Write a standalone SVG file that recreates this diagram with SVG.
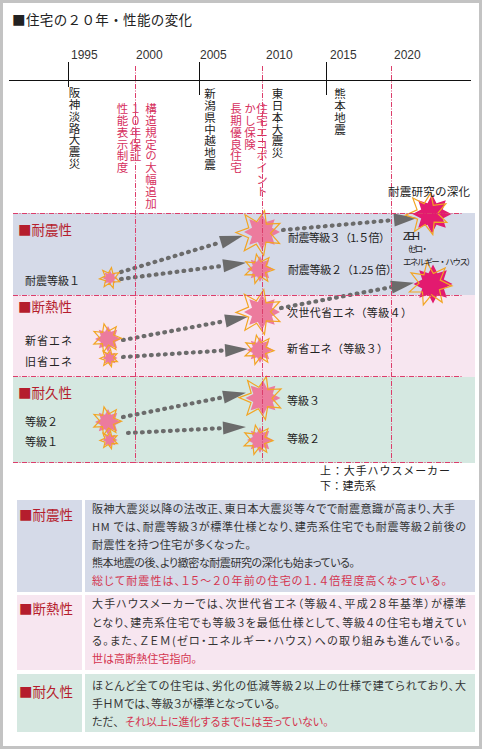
<svg xmlns="http://www.w3.org/2000/svg" width="482" height="749" viewBox="0 0 482 749">
<style>
text { font-family: "Noto Sans CJK JP", "Noto Sans", sans-serif; fill: #222; }
.pa { font-feature-settings: "palt"; }
.yr { font-family: "Liberation Sans", "Noto Sans", sans-serif; font-size: 12px; fill: #333; }
.vt { font-size: 11.5px; writing-mode: vertical-rl; letter-spacing: 0.3px; }
.vr { fill: #d6305e; }
.lab { font-size: 13.5px; fill: #b51d2d; }
.t11 { font-size: 11px; }
.body { font-size: 11px; fill: #333; }
.bred { fill: #d4344f; }
.grid { stroke: #dc3d6b; stroke-width: 1; stroke-dasharray: 5 1.5 1 1.5; fill: none; }
.tick { stroke: #111; stroke-width: 1; fill: none; }
.dots { stroke: #6b6b6b; stroke-width: 4.2; stroke-linecap: round; stroke-dasharray: 0.8 6.2; fill: none; marker-end: url(#ah); }
.pk { fill: #ec7b9d; }
.dp { fill: #e31a6f; }
.og { fill: none; stroke: #f2a524; stroke-width: 1.2; }
.b1 { fill: #d5dae8; }
.b2 { fill: #f7e6f0; }
.b3 { fill: #d5e8e1; }
</style>
<defs>
<path id="p8" d="M0,-10 L2.3,-5.54 L7.07,-7.07 L5.54,-2.3 L10,0 L5.54,2.3 L7.07,7.07 L2.3,5.54 L0,10 L-2.3,5.54 L-7.07,7.07 L-5.54,2.3 L-10,0 L-5.54,-2.3 L-7.07,-7.07 L-2.3,-5.54 Z"/>
<path id="p7" vector-effect="non-scaling-stroke" d="M0,-10 L2.17,-4.5 L7.82,-6.23 L4.87,-1.11 L9.75,2.23 L3.91,3.12 L4.34,9.01 L0,5 L-4.34,9.01 L-3.91,3.12 L-9.75,2.23 L-4.87,-1.11 L-7.82,-6.23 L-2.17,-4.5 Z"/>
<marker id="ah" markerUnits="userSpaceOnUse" markerWidth="24" markerHeight="14" refX="0" refY="6.5" orient="auto" overflow="visible">
<path d="M0,0 L23,6.5 L0,13 Z" fill="#6b6b6b"/>
</marker>
</defs>

<rect x="0" y="0" width="482" height="749" fill="#fff"/>
<rect x="1.5" y="1.5" width="479" height="746" fill="none" stroke="#c3c3c3" stroke-width="3"/>

<text x="12" y="25" style="font-size:13.5px" textLength="180">■住宅の２０年・性能の変化</text>

<!-- bands -->
<g id="bands">
<rect class="b1" x="13" y="213" width="462" height="82"/>
<rect class="b2" x="13" y="295" width="462" height="82"/>
<rect class="b3" x="13" y="377" width="462" height="86"/>
</g>

<!-- timeline -->
<g id="timeline">
<line class="tick" x1="9" y1="80.5" x2="471" y2="80.5"/>
<line class="tick" x1="68.5" y1="62" x2="68.5" y2="87"/>
<line class="tick" x1="199.5" y1="62" x2="199.5" y2="95"/>
<line class="tick" x1="326.5" y1="62" x2="326.5" y2="95"/>
<text class="yr" x="71" y="59">1995</text>
<text class="yr" x="136" y="59">2000</text>
<text class="yr" x="200" y="59">2005</text>
<text class="yr" x="266" y="59">2010</text>
<text class="yr" x="330" y="59">2015</text>
<text class="yr" x="394" y="59">2020</text>
</g>

<g id="events">
<text class="vt" x="74.5" y="87">阪神淡路大震災</text>
<text class="vt vr" x="122.5" y="103">性能表示制度</text>
<text class="vt vr" x="135.5" y="103">１０年保証</text>
<text class="vt vr" x="151" y="103">構造規定の大幅追加</text>
<text class="vt" x="210" y="88">新潟県中越地震</text>
<text class="vt vr" x="236" y="103">長期優良住宅</text>
<text class="vt vr" x="250" y="103">かし保険</text>
<text class="vt vr" x="262" y="103">住宅エコポイント</text>
<text class="vt" x="277.5" y="88">東日本大震災</text>
<text class="vt" x="340" y="88">熊本地震</text>
</g>

<!-- connectors -->
<g id="connectors">
<path class="dots" d="M121,272 L220.9,242.3"/>
<path class="dots" d="M121,279 L223.2,265.8"/>
<path class="dots" d="M283,230 L394.1,220"/>
<path class="dots" d="M123,340 L225.4,321"/>
<path class="dots" d="M123,357 L225.1,350.4"/>
<path class="dots" d="M281,308 L391.4,287.1"/>
<path class="dots" d="M123,417 L223.4,397.2"/>
<path class="dots" d="M128,433 L223,428.1"/>
</g>

<!-- nodes: stars -->
<g id="star-taishin1">
<use href="#p8" class="pk" transform="translate(110,278) scale(0.75)"/>
<use href="#p7" class="og" transform="translate(110,278) rotate(8) scale(1.05)"/>
</g>
<g id="star-taishin3">
<use href="#p8" class="pk" transform="translate(262,232) scale(1.8)"/>
<use href="#p7" class="og" transform="translate(259,233) rotate(14) scale(2.3)"/>
</g>
<g id="star-taishin2">
<use href="#p8" class="pk" transform="translate(260,269) scale(1.3)"/>
<use href="#p7" class="og" transform="translate(259,269) rotate(-10) scale(1.5)"/>
</g>
<g id="star-zeh-top">
<use href="#p8" class="dp" transform="translate(432,214) scale(1.95)"/>
<use href="#p7" class="og" transform="translate(427,214) rotate(10) scale(2.15)"/>
</g>
<g id="star-zeh-bottom">
<use href="#p8" class="dp" transform="translate(433,284) scale(1.95)"/>
<use href="#p7" class="og" transform="translate(430,284) rotate(-8) scale(2.2)"/>
</g>
<g id="star-shinshoene">
<use href="#p8" class="pk" transform="translate(108,339) scale(1.3)"/>
<use href="#p7" class="og" transform="translate(107,338) rotate(-12) scale(1.45)"/>
</g>
<g id="star-kyushoene">
<use href="#p8" class="pk" transform="translate(110,358) scale(0.75)"/>
<use href="#p7" class="og" transform="translate(109,358) rotate(10) scale(0.9)"/>
</g>
<g id="star-jisedai">
<use href="#p8" class="pk" transform="translate(262,312) scale(1.8)"/>
<use href="#p7" class="og" transform="translate(259,312) rotate(12) scale(2.3)"/>
</g>
<g id="star-shinshoene3">
<use href="#p8" class="pk" transform="translate(260,350) scale(1.3)"/>
<use href="#p7" class="og" transform="translate(259,350) rotate(-10) scale(1.5)"/>
</g>
<g id="star-taikyu2">
<use href="#p8" class="pk" transform="translate(108,422) scale(1.3)"/>
<use href="#p7" class="og" transform="translate(107,421) rotate(-12) scale(1.45)"/>
</g>
<g id="star-taikyu1">
<use href="#p8" class="pk" transform="translate(110,440) scale(0.75)"/>
<use href="#p7" class="og" transform="translate(109,440) rotate(10) scale(0.9)"/>
</g>
<g id="star-taikyu3">
<use href="#p8" class="pk" transform="translate(263,398) scale(1.75)"/>
<use href="#p7" class="og" transform="translate(261,398) rotate(14) scale(2.2)"/>
</g>
<g id="star-taikyu2b">
<use href="#p8" class="pk" transform="translate(260,440) scale(1.3)"/>
<use href="#p7" class="og" transform="translate(258,440) rotate(-10) scale(1.5)"/>
</g>

<!-- grid lines -->
<g id="grid">
<line class="grid" x1="13" y1="213.5" x2="463" y2="213.5"/>
<line class="grid" x1="13" y1="295.5" x2="463" y2="295.5"/>
<line class="grid" x1="13" y1="376.5" x2="463" y2="376.5"/>
<line class="grid" x1="13" y1="462.5" x2="463" y2="462.5"/>
<line class="grid" x1="135.5" y1="66" x2="135.5" y2="463"/>
<line class="grid" x1="262.5" y1="66" x2="262.5" y2="463"/>
<line class="grid" x1="391.5" y1="66" x2="391.5" y2="463"/>
</g>

<!-- labels -->
<g id="labels">
<text class="lab" x="18" y="235">■耐震性</text>
<text class="lab" x="18" y="312">■断熱性</text>
<text class="lab" x="18" y="398">■耐久性</text>
<text class="t11" x="25" y="285" textLength="55">耐震等級１</text>
<text class="t11" x="25" y="345" textLength="47">新省エネ</text>
<text class="t11" x="25" y="366" textLength="47">旧省エネ</text>
<text class="t11" x="25" y="426" textLength="33">等級２</text>
<text class="t11" x="25" y="446" textLength="33">等級１</text>
<text class="t11" x="288" y="242" textLength="102">耐震等級３（1.５倍）</text>
<text class="t11" x="288" y="274" textLength="109">耐震等級２（1.25 倍）</text>
<text class="t11" x="287" y="317" textLength="125">次世代省エネ（等級４）</text>
<text class="t11" x="287" y="353" textLength="101">新省エネ（等級３）</text>
<text class="t11" x="287" y="405" textLength="33">等級３</text>
<text class="t11" x="287" y="443" textLength="33">等級２</text>
<text style="font-size:11.5px" x="388" y="196" textLength="82">耐震研究の深化</text>
<text style="font-size:11px;font-family:'Liberation Sans',sans-serif" x="403" y="240" textLength="17">ZEH</text>
<text style="font-size:8.5px" x="403" y="252" textLength="26">（ゼロ・</text>
<text style="font-size:8.5px" x="403" y="265" textLength="72">エネルギー・ハウス）</text>
<text style="font-size:11px" x="320" y="475" textLength="130">上：大手ハウスメーカー</text>
<text style="font-size:11px" x="320" y="490" textLength="56">下：建売系</text>
</g>

<!-- explanation boxes -->
<g id="box-taishin">
<rect class="b1" x="17" y="500" width="65" height="92"/>
<rect class="b1" x="85" y="500" width="390" height="92"/>
<text class="lab" x="19" y="520">■耐震性</text>
<text class="body pa" x="92" y="513" textLength="363">阪神大震災以降の法改正、東日本大震災等々でで耐震意識が高まり、大手</text>
<text class="body pa" x="92" y="531" textLength="374">HM では、耐震等級３が標準仕様となり、建売系住宅でも耐震等級２前後の</text>
<text class="body pa" x="92" y="549" textLength="159">耐震性を持つ住宅が多くなった。</text>
<text class="body pa" x="92" y="567" textLength="263">熊本地震の後、より緻密な耐震研究の深化も始まっている。</text>
<text class="body pa bred" x="92" y="585" textLength="355">総じて耐震性は、１５〜２０年前の住宅の１．４倍程度高くなっている。</text>
</g>
<g id="box-dannetsu">
<rect class="b2" x="17" y="595" width="65" height="75"/>
<rect class="b2" x="85" y="595" width="390" height="75"/>
<text class="lab" x="19" y="614">■断熱性</text>
<text class="body pa" x="92" y="608" textLength="374">大手ハウスメーカーでは、次世代省エネ（等級４、平成２８年基準）が標準</text>
<text class="body pa" x="92" y="627" textLength="374">となり、建売系住宅でも等級３を最低仕様として、等級４の住宅も増えてい</text>
<text class="body pa" x="92" y="645" textLength="369">る。また、ＺＥＭ(ゼロ・エネルギー・ハウス）への取り組みも進んでいる。</text>
<text class="body pa bred" x="92" y="663" textLength="105">世は高断熱住宅指向。</text>
</g>
<g id="box-taikyu">
<rect class="b3" x="17" y="674" width="65" height="58"/>
<rect class="b3" x="85" y="674" width="390" height="58"/>
<text class="lab" x="19" y="697">■耐久性</text>
<text class="body pa" x="92" y="690" textLength="374">ほとんど全ての住宅は、劣化の低減等級２以上の仕様で建てられており、大</text>
<text class="body pa" x="92" y="708" textLength="188">手ＨＭでは、等級３が標準となっている。</text>
<text class="body pa" x="92" y="726"><tspan>ただ、</tspan><tspan class="bred" x="125">それ以上に進化するまでには至っていない。</tspan></text>
</g>
</svg>
